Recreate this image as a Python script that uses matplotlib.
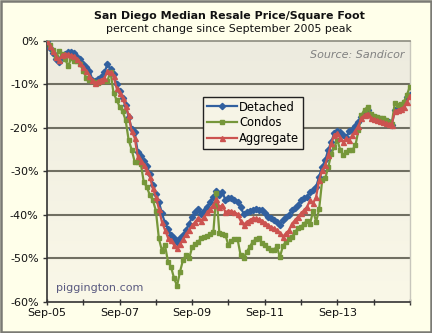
#!/usr/bin/env python3
"""San Diego median resale price per square foot, % change since Sep 2005 peak."""

import numpy as np
import matplotlib
matplotlib.use("Agg")
import matplotlib.pyplot as plt
from matplotlib.patches import Rectangle

# ---------------------------------------------------------------------------
# Data: monthly, Sep-05 onward (percent change from Sep-05)
# ---------------------------------------------------------------------------
detached = [
    0.0, -1.6, -2.8, -4.2, -4.8, -3.6, -3.0, -2.6, -2.5, -2.8,
    -3.6, -4.2, -5.4, -6.0, -6.8, -8.9, -9.3, -8.8, -8.2, -7.2,
    -5.4, -6.4, -7.6, -10.0, -11.5, -13.2, -14.8, -17.5, -20.2, -21.0,
    -25.6, -26.4, -27.6, -28.8, -30.6, -33.0, -35.2, -37.0, -39.6, -41.8,
    -43.2, -44.6, -45.4, -46.1, -45.4, -44.6, -43.4, -42.0, -40.4, -39.4,
    -38.6, -39.8, -39.0, -38.2, -37.0, -35.8, -34.4, -35.4, -34.7, -36.6,
    -36.0, -36.2, -36.6, -37.0, -38.2, -39.7, -39.3, -39.0, -38.9, -38.7,
    -38.8, -38.9, -39.5, -40.4, -40.8, -41.1, -41.5, -42.3, -41.1, -40.5,
    -40.0, -38.9, -38.4, -37.7, -36.6, -36.1, -35.8, -34.7, -34.2, -33.5,
    -31.2, -28.9, -27.4, -25.1, -23.2, -21.2, -20.8, -20.9, -21.6, -22.0,
    -20.8, -20.5, -19.5, -18.6, -17.4, -16.5, -15.9, -17.0, -17.4, -17.8,
    -18.0, -18.2, -18.4, -18.6, -19.3, -15.9, -15.6, -15.0, -14.3, -12.8,
    -12.4,
]
condos = [
    0.0, -1.0, -2.0, -3.6, -2.4, -3.0, -4.2, -5.8, -4.0, -4.7,
    -4.6, -5.4, -7.0, -8.5, -9.0, -9.3, -9.4, -9.6, -9.3, -9.2,
    -9.1, -7.1, -12.0, -13.5, -15.1, -16.2, -18.2, -22.8, -25.0, -27.8,
    -27.9, -28.2, -32.4, -33.6, -35.4, -36.6, -39.0, -45.4, -48.2, -46.9,
    -50.7, -51.9, -54.5, -56.3, -53.0, -50.3, -49.2, -50.0, -47.4, -46.6,
    -46.1, -45.4, -45.1, -44.8, -44.4, -44.0, -35.0, -44.2, -44.4, -44.6,
    -47.0, -45.9, -45.6, -45.5, -49.2, -50.0, -48.5, -47.4, -46.2, -45.6,
    -45.4, -46.5, -47.0, -47.6, -48.1, -48.1, -47.2, -49.7, -47.2, -46.1,
    -45.6, -45.1, -43.9, -43.1, -42.7, -42.0, -41.3, -42.0, -39.0, -41.6,
    -38.6, -32.0, -31.6, -29.0, -26.0, -24.4, -22.8, -25.1, -26.2, -25.5,
    -25.1, -25.0, -24.0, -20.5, -17.0, -15.8, -15.2, -16.7, -17.2, -17.4,
    -17.6, -17.8, -18.2, -18.6, -19.0, -14.3, -14.7, -14.5, -14.0, -12.4,
    -10.5,
]
aggregate = [
    0.0, -1.2, -2.4, -3.6, -4.3, -3.3, -3.0, -3.1, -3.3, -3.5,
    -4.2, -5.1, -6.0, -7.0, -8.0, -8.9, -9.7, -9.3, -8.9, -8.5,
    -7.0, -7.2, -8.1, -10.8, -12.0, -13.1, -15.0, -17.0, -20.8, -22.3,
    -26.5, -27.5, -28.5, -30.0, -31.2, -33.9, -35.8, -38.6, -41.6, -43.4,
    -45.2, -45.8, -46.9, -47.6, -46.7, -45.5, -44.4, -43.4, -42.4, -41.6,
    -40.6, -41.3, -40.4, -39.4, -38.6, -37.7, -36.3, -38.2, -37.7, -39.4,
    -39.0, -39.2, -39.4, -39.8, -41.3, -42.3, -41.6, -41.2, -40.8, -40.8,
    -41.0, -41.3, -41.8, -42.3, -42.8, -43.1, -43.5, -44.2, -45.0, -44.2,
    -43.5, -42.0, -41.2, -40.4, -39.6, -38.9, -38.1, -36.6, -37.3, -35.8,
    -32.0, -29.7, -28.5, -26.2, -23.5, -21.6, -21.2, -22.4, -23.2, -22.4,
    -22.8, -21.6, -20.6, -19.5, -17.8, -17.0, -16.7, -17.8, -18.0, -18.2,
    -18.4, -18.6, -18.9, -19.1, -19.3, -16.2, -15.9, -15.6, -15.2, -14.0,
    -12.6,
]

year_ticks = list(range(0, 121, 12))
year_labels = ["Sep-05", "", "Sep-07", "", "Sep-09", "", "Sep-11", "",
               "Sep-13", "", ""]
pct_ticks = [0, -10, -20, -30, -40, -50, -60]

months = np.arange(len(detached))

# ---------------------------------------------------------------------------
# Figure
# ---------------------------------------------------------------------------
fig = plt.figure(figsize=(4.32, 3.33), dpi=100)
fig.patch.set_facecolor("#FFFFEA")
fig.patches.append(Rectangle((0.002, 0.003), 0.995, 0.994, transform=fig.transFigure,
                             fill=False, edgecolor="#7A7A74", linewidth=1.8))

ax = fig.add_axes([0.1088, 0.0931, 0.840, 0.784])

# plot area gradient
grad = np.linspace(0, 1, 256).reshape(-1, 1)
ax.imshow(grad, extent=[0, 120, -60, 0], aspect="auto", origin="upper",
          cmap=matplotlib.colors.LinearSegmentedColormap.from_list(
              "bg", ["#EDEBDF", "#FAF8E8"]), zorder=0)

for v in pct_ticks[1:-1]:
    ax.axhline(v, color="#706F62", linewidth=1.5, zorder=1)

ax.plot(months, detached, color="#31609F", linewidth=1.6, marker="D",
        markersize=3.2, label="Detached", zorder=3)
ax.plot(months, condos, color="#76973A", linewidth=1.6, marker="s",
        markersize=3.4, label="Condos", zorder=4)
ax.plot(months, aggregate, color="#CC5350", linewidth=1.6, marker="^",
        markersize=3.6, label="Aggregate", zorder=5)

ax.set_xlim(0, 120)
ax.set_ylim(-60, 0)
ax.set_xticks(year_ticks)
ax.set_xticklabels(year_labels, fontsize=8, color="#111111")
ax.set_yticks(pct_ticks)
ax.set_yticklabels([f"{v}%" for v in pct_ticks], fontsize=8, color="#111111")
ax.tick_params(axis="x", direction="inout", length=5, width=1, color="#333333", pad=2)
ax.tick_params(axis="y", direction="out", length=3, width=1, color="#333333", pad=3)

for side in ["left", "bottom"]:
    ax.spines[side].set_color("#333333")
    ax.spines[side].set_linewidth(1.2)
ax.spines["top"].set_color("#8C8B80")
ax.spines["top"].set_linewidth(1.2)
ax.spines["right"].set_color("#C8C7BC")
ax.spines["right"].set_linewidth(1.0)

leg = ax.legend(loc="upper left", bbox_to_anchor=(0.431, 0.785), fontsize=8.3,
                frameon=True, fancybox=False, borderpad=0.3, labelspacing=0.25,
                handlelength=2.6, handletextpad=0.2, borderaxespad=0)
leg.get_frame().set_edgecolor("#222222")
leg.get_frame().set_facecolor("#F6F4E6")
leg.get_frame().set_linewidth(1.0)
leg.get_frame().set_alpha(1)

ax.text(0.985, 0.945, "Source: Sandicor", transform=ax.transAxes, ha="right",
        va="center", fontsize=8, fontstyle="italic", color="#808080")
ax.text(0.025, 0.055, "piggington.com", transform=ax.transAxes, ha="left",
        va="center", fontsize=8, color="#5A5A80")

fig.text(0.53, 0.952, "San Diego Median Resale Price/Square Foot", ha="center",
         va="center", fontsize=7.9, fontweight="bold", color="#111111")
fig.text(0.53, 0.913, "percent change since September 2005 peak", ha="center",
         va="center", fontsize=7.9, color="#111111")

fig.savefig("out.png", dpi=100, facecolor=fig.get_facecolor())
